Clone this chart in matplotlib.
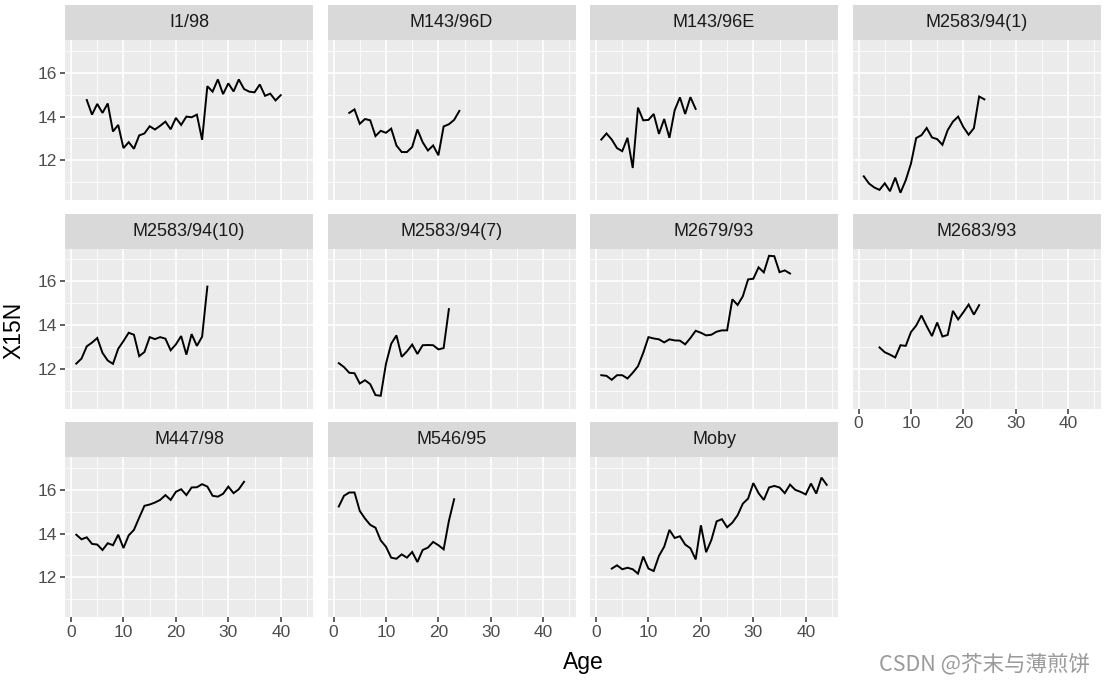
import numpy as np
import matplotlib
matplotlib.use("Agg")
import matplotlib.pyplot as plt

plt.rcParams['font.family'] = ['Liberation Sans', 'DejaVu Sans']

# animal ids (facet order) and first age of each series
animals = ['I1/98', 'M143/96D', 'M143/96E', 'M2583/94(1)',
           'M2583/94(10)', 'M2583/94(7)', 'M2679/93', 'M2683/93',
           'M447/98', 'M546/95', 'Moby']
start_age = [3, 3, 1, 1, 1, 1, 1, 4, 1, 1, 3]

# X15N values, one per year of age
i1_98 = [14.76, 14.09, 14.58, 14.17, 14.6, 13.32, 13.62, 12.56, 12.83, 12.53,
         13.14, 13.23, 13.56, 13.41, 13.58, 13.77, 13.42, 13.94, 13.62, 14.0,
         13.97, 14.09, 12.94, 15.39, 15.14, 15.7, 15.03, 15.52, 15.15, 15.7,
         15.26, 15.14, 15.11, 15.47, 14.95, 15.05, 14.74, 14.98]
m143_96d = [14.17, 14.33, 13.67, 13.89, 13.83, 13.11, 13.35, 13.26, 13.45, 12.68,
            12.38, 12.38, 12.61, 13.41, 12.83, 12.45, 12.68, 12.23, 13.55, 13.65,
            13.85, 14.26]
m143_96e = [12.95, 13.23, 12.95, 12.56, 12.42, 13.03, 11.65, 14.41, 13.83, 13.85,
            14.12, 13.21, 13.89, 13.03, 14.29, 14.88, 14.12, 14.89, 14.35]
m2583_1 = [11.27, 10.94, 10.76, 10.65, 10.95, 10.59, 11.21, 10.52, 11.09, 11.85,
           13.02, 13.15, 13.48, 13.05, 12.97, 12.71, 13.38, 13.77, 14.0, 13.52,
           13.17, 13.47, 14.92, 14.79]
m2583_10 = [12.24, 12.47, 13.03, 13.2, 13.41, 12.73, 12.38, 12.23, 12.92, 13.27,
            13.65, 13.56, 12.58, 12.77, 13.45, 13.36, 13.45, 13.38, 12.85, 13.12,
            13.5, 12.65, 13.59, 13.05, 13.47, 15.76]
m2583_7 = [12.26, 12.08, 11.82, 11.8, 11.33, 11.48, 11.3, 10.8, 10.77, 12.23,
           13.15, 13.53, 12.55, 12.8, 13.11, 12.68, 13.08, 13.09, 13.08, 12.89,
           12.95, 14.73]
m2679_93 = [11.71, 11.68, 11.5, 11.71, 11.71, 11.56, 11.82, 12.12, 12.73, 13.45,
            13.39, 13.35, 13.21, 13.35, 13.3, 13.29, 13.12, 13.41, 13.74, 13.65,
            13.53, 13.56, 13.7, 13.76, 13.76, 15.18, 14.92, 15.32, 16.09, 16.12,
            16.64, 16.41, 17.17, 17.15, 16.42, 16.5, 16.36]
m2683_93 = [12.98, 12.76, 12.65, 12.52, 13.08, 13.05, 13.68, 13.98, 14.44, 13.95,
            13.5, 14.12, 13.48, 13.55, 14.65, 14.26, 14.59, 14.94, 14.48, 14.91]
m447_98 = [13.95, 13.74, 13.83, 13.53, 13.5, 13.25, 13.56, 13.47, 13.95, 13.34,
           13.92, 14.17, 14.73, 15.27, 15.33, 15.42, 15.54, 15.76, 15.54, 15.91,
           16.03, 15.76, 16.11, 16.12, 16.26, 16.15, 15.73, 15.69, 15.82, 16.15,
           15.85, 16.03, 16.37]
m546_95 = [15.24, 15.73, 15.88, 15.88, 15.04, 14.69, 14.4, 14.27, 13.69, 13.4,
           12.9, 12.85, 13.05, 12.9, 13.16, 12.7, 13.25, 13.36, 13.62, 13.47,
           13.28, 14.58, 15.57]
moby = [12.4, 12.55, 12.37, 12.44, 12.37, 12.17, 12.95, 12.4, 12.29, 12.98,
        13.4, 14.17, 13.8, 13.88, 13.5, 13.33, 12.82, 14.38, 13.15, 13.71,
        14.56, 14.66, 14.29, 14.5, 14.84, 15.37, 15.6, 16.31, 15.85, 15.54,
        16.11, 16.18, 16.11, 15.85, 16.24, 16.0, 15.91, 15.79, 16.29, 15.83,
        16.56, 16.23]

series = [i1_98, m143_96d, m143_96e, m2583_1, m2583_10, m2583_7,
          m2679_93, m2683_93, m447_98, m546_95, moby]

x_major = [0, 10, 20, 30, 40]
x_minor = [5, 15, 25, 35, 45]
y_major = [12, 14, 16]
y_minor = [11, 13, 15, 17]

W, H = 1104, 684
fig = plt.figure(figsize=(W / 100, H / 100), dpi=100)

# shared scales (ggplot style 5% expansion)
all_x = [a for s, st in zip(series, start_age) for a in range(st, st + len(s))]
all_y = [v for s in series for v in s]
xr = max(all_x) - min(all_x)
yr = max(all_y) - min(all_y)
xlim = (min(all_x) - 0.05 * xr, max(all_x) + 0.05 * xr)
ylim = (min(all_y) - 0.05 * yr, max(all_y) + 0.05 * yr)

col_left = [65, 327.5, 590, 852.5]
row_top = [5, 213.5, 422]
pw, ph, sh = 248, 160, 35

bg = '#EBEBEB'
strip_col = '#D9D9D9'

for i, (name, vals, st) in enumerate(zip(animals, series, start_age)):
    r, c = divmod(i, 4)
    x0 = col_left[c]
    ytop = row_top[r]
    ax = fig.add_axes([x0 / W, 1 - (ytop + sh + ph) / H, pw / W, ph / H])
    ax.set_facecolor(bg)
    ages = np.arange(st, st + len(vals))
    ax.plot(ages, vals, color='black', lw=1.4, solid_joinstyle='miter')
    ax.set_xlim(*xlim)
    ax.set_ylim(*ylim)
    ax.set_xticks(x_major)
    ax.set_xticks(x_minor, minor=True)
    ax.set_yticks(y_major)
    ax.set_yticks(y_minor, minor=True)
    ax.grid(which='major', color='white', lw=1.2)
    ax.grid(which='minor', color='white', lw=0.6)
    ax.set_axisbelow(True)
    for sp in ax.spines.values():
        sp.set_visible(False)
    ax.tick_params(which='minor', length=0)
    ax.tick_params(which='major', length=3.5, width=1.1, color='#333333',
                   labelcolor='#4D4D4D', labelsize=12.5, pad=2)
    show_x = (r == 2) or (i + 4 >= len(animals))
    show_y = c == 0
    ax.tick_params(axis='x', bottom=show_x, labelbottom=show_x)
    ax.tick_params(axis='y', left=show_y, labelleft=show_y)

    # facet strip
    sax = fig.add_axes([x0 / W, 1 - (ytop + sh) / H, pw / W, sh / H])
    sax.set_facecolor(strip_col)
    sax.set_xticks([])
    sax.set_yticks([])
    for sp in sax.spines.values():
        sp.set_visible(False)
    sax.text(0.5, 0.5, name, ha='center', va='center', fontsize=13,
             color='#1A1A1A', transform=sax.transAxes)

fig.text(583 / W, 1 - 662 / H, 'Age', ha='center', va='center',
         fontsize=16.5, color='black')
fig.text(14 / W, 1 - 330 / H, 'X15N', ha='center', va='center',
         fontsize=16.5, rotation=90, color='black')
fig.text(1090 / W, 1 - 664 / H, 'CSDN @芥末与薄煎饼', ha='right', va='center',
         fontsize=15.5, color='#9A9A9A',
         family=['Noto Sans CJK SC', 'DejaVu Sans'])

fig.savefig('out.png', dpi=100, facecolor='white')
